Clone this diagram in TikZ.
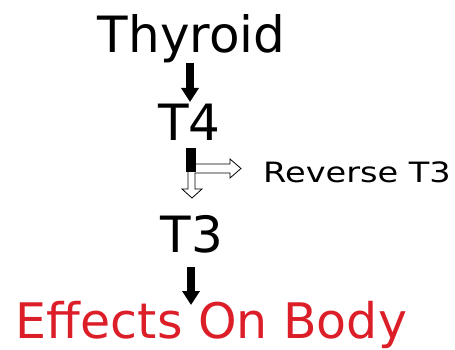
\documentclass[tikz,border=0pt]{standalone}
\usepackage{fontspec}
\setmainfont{DejaVu Sans}
\usetikzlibrary{arrows.meta}
\definecolor{effred}{RGB}{220,30,40}
\begin{document}
\begin{tikzpicture}[x=1pt,y=-1pt,
  lbl/.style={inner sep=0pt,anchor=base},
  big/.style={lbl,font=\fontsize{50}{60}\selectfont},
  blackarrow/.style={line width=8pt,-{Triangle[width=17pt,length=14pt]}},
  hollow/.style={draw=black,line width=0.8pt,fill=white,line join=miter}]
\useasboundingbox (0,0) rectangle (455,350);
\node[big] (thy) at (191.5,53) {Thyroid};
\node[big] (t4) at (189.5,140) {T4};
\node[big] (t3) at (192,252) {T3};
\node[lbl,anchor=base west,xscale=1.2,font=\fontsize{28}{32}\selectfont] (rev) at (263,182) {Reverse T3};
\node[lbl,text=effred,font=\fontsize{49}{58}\selectfont] (eff) at (211.5,338) {Effects On Body};
\coordinate (a1s) at (190,63);
\coordinate (a1e) at (190,102);
\coordinate (a3s) at (191,267);
\coordinate (a3e) at (191,305);
\draw[blackarrow] (a1s) -- (a1e);
\draw[blackarrow] (a3s) -- (a3e);
% split hollow arrow
\draw[hollow] (195,164) -- (230,164) -- (230,159) -- (241,168.5) -- (230,178) -- (230,173)
  -- (195,173) -- (195,189) -- (202,189) -- (192,198) -- (182,189) -- (188,189) -- (188,170) -- cycle;
\fill[black] (186,148) rectangle (196,172);
\end{tikzpicture}
\end{document}
